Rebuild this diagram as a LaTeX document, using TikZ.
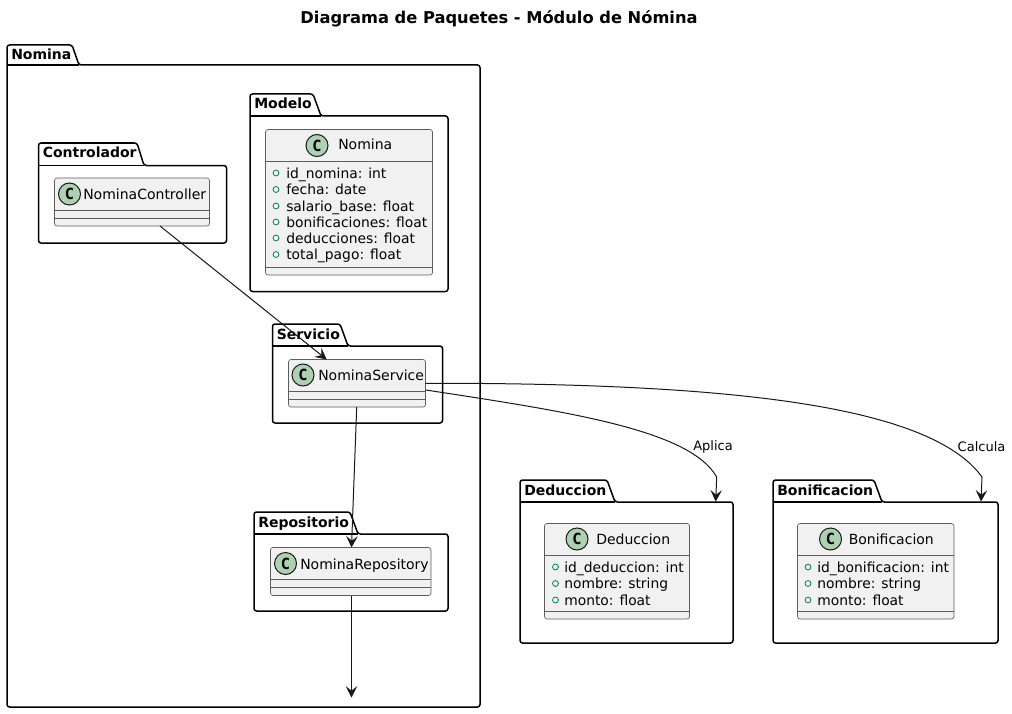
\documentclass[tikz,border=0pt]{standalone}
\usepackage{fontspec}
\setmainfont{DejaVu Sans}
\setmonofont{DejaVu Sans Mono}
\usetikzlibrary{arrows.meta,calc}
\definecolor{boxfill}{HTML}{F1F1F1}
\definecolor{ink}{HTML}{181818}
\definecolor{spot}{HTML}{ADD1B2}
\definecolor{vis}{HTML}{038048}
\tikzset{
  pkgline/.style={draw=black,line width=1.125pt,rounded corners=1.9pt,fill=white},
  pkglabel/.style={anchor=base west,inner sep=0pt,font=\fontsize{10.5pt}{12pt}\selectfont\bfseries,text=black},
  classbox/.style={draw=ink!70,fill=boxfill,line width=0.5pt,rounded corners=1.9pt,inner sep=0pt,outer sep=0pt},
  classname/.style={anchor=base west,inner sep=0pt,font=\fontsize{10.5pt}{12pt}\selectfont,text=black},
  attrtext/.style={anchor=base west,inner sep=0pt,font=\fontsize{10.4pt}{12pt}\selectfont,text=black},
  sepline/.style={draw=ink!70,line width=0.5pt},
  spotc/.style={circle,draw=ink,fill=spot,line width=0.75pt,minimum size=16.5pt,inner sep=0pt,font=\fontsize{11.5pt}{12pt}\selectfont\bfseries\ttfamily},
  visdot/.style={draw=vis,line width=0.6pt},
  edge/.style={draw=ink,line width=0.75pt,-{Stealth[length=8.5pt,width=8.6pt,inset=3.4pt,line width=0.75pt,fill=ink]}},
  edgelabel/.style={inner sep=0pt,font=\fontsize{9.75pt}{12pt}\selectfont,text=black}
}
% name, left, tabtop, bodytop, right, bottom, tabend, corner, baseline, label
\newcommand{\pkgbox}[9]{%
  \draw[pkgline] (#2,#4) -- (#2,#3) -- (#8,#3) -- (#7,#4) -- (#5,#4) -- (#5,#6) -- (#2,#6) -- cycle;
  \draw[black,line width=0.9pt] (#2,#4) -- (#7,#4);
  \node[pkglabel] (#1) at ({#2+4},#9) {\pkgtext};
}
% name, x1, y1, x2, y2
\newcommand{\clsbox}[5]{%
  \node[classbox,minimum width={(#4-#2)*0.75pt},minimum height={(#5-#3)*0.75pt}] (#1) at ({(#2+#4)/2},{(#3+#5)/2}) {};
}
\newcommand{\attr}[5]{%
  \draw[visdot] (#2,#4) circle[radius=2.2pt];
  \node[attrtext] (#1) at (#3,{#4+5}) {#5};
}
\begin{document}
\begin{tikzpicture}[x=0.75pt,y=-0.75pt]
\useasboundingbox (0,0) rectangle (1012,713);
\node[inner sep=0pt,font=\fontsize{12.2pt}{14pt}\selectfont\bfseries] (title) at (499,18.5) {Diagrama de Paquetes - Módulo de Nómina};

\def\pkgtext{Nomina}\pkgbox{pNomina}{7}{45}{65}{480}{707}{79}{72}{60}
\def\pkgtext{Modelo}\pkgbox{pModelo}{250}{94}{116}{448}{291.5}{321}{313}{109}
\def\pkgtext{Controlador}\pkgbox{pCtrl}{38.5}{143}{165.5}{226.5}{243}{144}{137}{157.7}
\def\pkgtext{Servicio}\pkgbox{pServ}{272.5}{324}{346}{442.5}{423}{348}{340}{339}
\def\pkgtext{Repositorio}\pkgbox{pRepo}{254}{512}{534}{448}{611}{358}{350}{527}
\def\pkgtext{Deduccion}\pkgbox{pDed}{520}{480}{502}{733}{643}{615}{607}{495}
\def\pkgtext{Bonificacion}\pkgbox{pBon}{773}{480}{502}{998}{643}{882}{874}{495}

% Nomina class
\clsbox{cNomina}{265.5}{129.5}{432.5}{275}
\draw[sepline] (265.5,161) -- (432.5,161) (265.5,267) -- (432.5,267);
\node[spotc] (sNomina) at (317,145.5) {C};
\node[classname] (nNomina) at (338,150) {Nomina};
\attr{a1}{276}{286}{173}{id\_nomina: int}
\attr{a2}{276}{286}{189.5}{fecha: date}
\attr{a3}{276}{286}{206}{salario\_base: float}
\attr{a4}{276}{286}{222}{bonificaciones: float}
\attr{a5}{276}{286}{238}{deducciones: float}
\attr{a6}{276}{286}{254.5}{total\_pago: float}

% Controller
\clsbox{cCtrl}{54.5}{178}{209.5}{226}
\draw[sepline] (54.5,210.5) -- (209.5,210.5) (54.5,218.5) -- (209.5,218.5);
\node[spotc] (sCtrl) at (69.5,194) {C};
\node[classname] (nCtrl) at (83,199.3) {NominaController};

% Service
\clsbox{cServ}{288.5}{359.5}{425.5}{407}
\draw[sepline] (288.5,391) -- (425.5,391) (288.5,399) -- (425.5,399);
\node[spotc] (sServ) at (303,375) {C};
\node[classname] (nServ) at (318,380) {NominaService};

% Repository
\clsbox{cRepo}{270.5}{547.5}{431}{595.5}
\draw[sepline] (270.5,579.5) -- (431,579.5) (270.5,587.5) -- (431,587.5);
\node[spotc] (sRepo) at (285.5,563.5) {C};
\node[classname] (nRepo) at (300,569) {NominaRepository};

% Deduccion
\clsbox{cDed}{544.5}{523.5}{689.5}{619}
\draw[sepline] (544.5,555.5) -- (689.5,555.5) (544.5,611) -- (689.5,611);
\node[spotc] (sDed) at (577,539) {C};
\node[classname] (nDed) at (596,544) {Deduccion};
\attr{d1}{555.5}{564}{567}{id\_deduccion: int}
\attr{d2}{555.5}{564}{583.5}{nombre: string}
\attr{d3}{555.5}{564}{600}{monto: float}

% Bonificacion
\clsbox{cBon}{797.5}{523.5}{954}{619}
\draw[sepline] (797.5,555.5) -- (954,555.5) (797.5,611) -- (954,611);
\node[spotc] (sBon) at (830.5,539) {C};
\node[classname] (nBon) at (848.5,544) {Bonificacion};
\attr{b1}{808}{817}{567}{id\_bonificacion: int}
\attr{b2}{808}{817}{583.5}{nombre: string}
\attr{b3}{808}{817}{600}{monto: float}

% Connectors
\coordinate (repoEnd) at (351.5,697.5);
\coordinate (dedIn) at (715.7,501.5);
\coordinate (bonIn) at (981,501.5);
\draw[edge] ($(cCtrl.south)+(28,0)$) -- ($(cServ.north)+(-30.3,0)$);
\draw[edge] ($(cServ.south)+(-0.3,0)$) -- ($(cRepo.north)+(0.75,0)$);
\draw[edge] ($(cRepo.south)+(0.75,0)$) -- (repoEnd);
\draw[edge] ($(cServ.east)+(0,6.7)$) .. controls (570,412) and (690,430) .. (716.7,477) -- (dedIn);
\draw[edge] (cServ.east) .. controls (730,383) and (930,405) .. (982,477) -- (bonIn);
\node[edgelabel] (lAplica) at (713,447) {Aplica};
\node[edgelabel] (lCalcula) at (981.5,447) {Calcula};
\end{tikzpicture}
\end{document}
